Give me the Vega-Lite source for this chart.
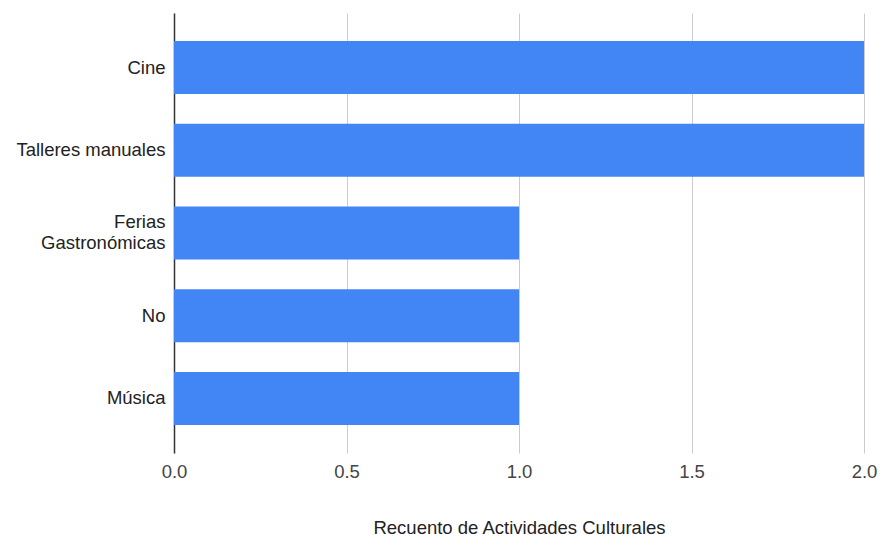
{
  "$schema": "https://vega.github.io/schema/vega-lite/v6.json",
  "autosize": "none",
  "width": 690,
  "height": 440,
  "padding": {"left": 174, "top": 13, "right": 20, "bottom": 89},
  "background": "white",
  "config": {
    "font": "Liberation Sans",
    "view": {"stroke": null}
  },
  "data": {
    "values": [
      {"actividad": "Cine", "recuento": 2},
      {"actividad": "Talleres manuales", "recuento": 2},
      {"actividad": "Ferias Gastronómicas", "recuento": 1},
      {"actividad": "No", "recuento": 1},
      {"actividad": "Música", "recuento": 1}
    ]
  },
  "mark": {"type": "bar", "color": "#4285F4"},
  "encoding": {
    "y": {
      "field": "actividad",
      "type": "nominal",
      "sort": null,
      "scale": {"paddingInner": 0.36, "paddingOuter": 0.34},
      "axis": {
        "title": null,
        "ticks": false,
        "domainColor": "#333333",
        "domainWidth": 1.5,
        "labelFont": "Liberation Sans",
        "labelFontSize": 18.5,
        "labelColor": "#222222",
        "labelPadding": 9,
        "labelLimit": 250,
        "labelLineHeight": 21,
        "labelOffset": {"condition": {"test": "datum.value == 'Ferias Gastronómicas'", "value": -11}, "value": 0},
        "labelExpr": "datum.label == 'Ferias Gastronómicas' ? ['Ferias', 'Gastronómicas'] : datum.label"
      }
    },
    "x": {
      "field": "recuento",
      "type": "quantitative",
      "scale": {"domain": [0, 2]},
      "axis": {
        "title": "Recuento de Actividades Culturales",
        "titleFont": "Liberation Sans",
        "titleFontSize": 18.5,
        "titleFontWeight": "normal",
        "titleColor": "#222222",
        "titlePadding": 38,
        "values": [0, 0.5, 1, 1.5, 2],
        "format": ".1f",
        "domain": false,
        "ticks": false,
        "grid": true,
        "gridColor": "#cccccc",
        "labelFlush": false,
        "labelFont": "Liberation Sans",
        "labelFontSize": 18.5,
        "labelColor": "#444444",
        "labelPadding": 9
      }
    }
  }
}
